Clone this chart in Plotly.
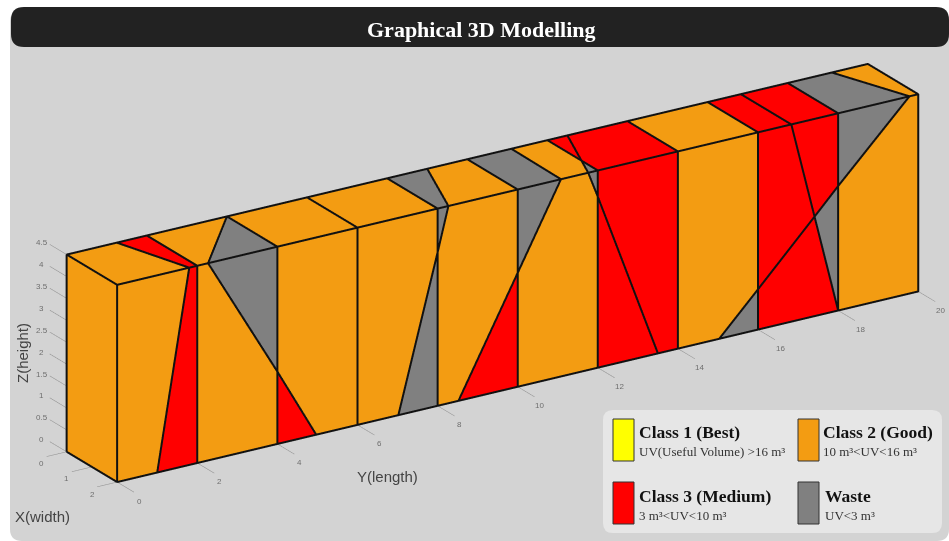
import math
import plotly.graph_objects as go

W, H = 949, 541

# ---------- data: polygons on the three visible faces, in metres ----------
ORANGE, RED, GREY, YELLOW = "#f39c12", "#ff0000", "#808080", "#ffff00"

# front face (x = 2): polygon corners as (y, z)
front_orange = [
    [(0, 0), (1, 0), (1.8, 4.5), (0, 4.5)],
    [(2, 0), (4, 0), (4, 1.65), (2.27, 4.5), (2, 4.5)],
    [(4.97, 0), (6, 0), (6, 4.5), (4, 4.5), (4, 1.65)],
    [(6, 0), (7.02, 0), (8, 3.5), (8, 4.5), (6, 4.5)],
    [(8, 0), (8.52, 0), (10, 2.6), (10, 4.5), (8.27, 4.5), (8, 3.5)],
    [(10, 0), (12, 0), (12, 3.9), (11.76, 4.5), (11.08, 4.5), (10, 2.6)],
    [(14, 0), (15.03, 0), (16, 0.92), (16, 4.5), (14, 4.5)],
    [(18, 0), (20, 0), (20, 4.5), (19.78, 4.5), (18, 2.84)],
]
front_red = [
    [(1, 0), (2, 0), (2, 4.5), (1.8, 4.5)],
    [(4, 0), (4.97, 0), (4, 1.65)],
    [(8.52, 0), (10, 0), (10, 2.6)],
    [(12, 0), (13.5, 0), (12, 3.9)],
    [(13.5, 0), (14, 0), (14, 4.5), (12, 4.5), (12, 3.9)],
    [(16, 0.92), (17.41, 2.27), (16.83, 4.5), (16, 4.5)],
    [(16, 0), (18, 0), (17.41, 2.27), (16, 0.92)],
    [(17.41, 2.27), (18, 2.84), (18, 4.5), (16.83, 4.5)],
]
front_grey = [
    [(2.27, 4.5), (4, 4.5), (4, 1.65)],
    [(7.02, 0), (8, 0), (8, 3.5)],
    [(8, 3.5), (8.27, 4.5), (8, 4.5)],
    [(10, 2.6), (11.08, 4.5), (10, 4.5)],
    [(11.76, 4.5), (12, 4.5), (12, 3.9)],
    [(15.03, 0), (16, 0), (16, 0.92)],
    [(17.41, 2.27), (18, 0), (18, 2.84)],
    [(18, 2.84), (19.78, 4.5), (18, 4.5)],
]
# top face (z = 4.5): polygon corners as (x, y)
top_orange = [
    [(2, 0), (2, 1.8), (0, 1.25), (0, 0)],
    [(2, 2), (2, 2.27), (0, 4), (0, 2)],
    [(2, 4), (2, 6), (0, 6), (0, 4)],
    [(2, 6), (2, 8), (0, 8), (0, 6)],
    [(2, 8.27), (2, 10), (0, 10), (0, 9)],
    [(2, 11.08), (2, 11.76), (1.35, 12), (0, 12), (0, 11.1)],
    [(2, 14), (2, 16), (0, 16), (0, 14)],
    [(2, 19.78), (2, 20), (0, 20), (0, 19.1)],
]
top_red = [
    [(2, 1.8), (2, 2), (0, 2), (0, 1.25)],
    [(1.35, 12), (0, 12.5), (0, 12)],
    [(2, 12), (2, 14), (0, 14), (0, 12.5), (1.35, 12)],
    [(2, 16), (2, 16.83), (0, 16.83), (0, 16)],
    [(2, 16.83), (2, 18), (0, 18), (0, 16.83)],
]
top_grey = [
    [(2, 2.27), (2, 4), (0, 4)],
    [(2, 8), (2, 8.27), (0, 9), (0, 8)],
    [(2, 10), (2, 11.08), (0, 11.1), (0, 10)],
    [(2, 11.76), (2, 12), (1.35, 12)],
    [(2, 18), (2, 19.78), (0, 19.1), (0, 18)],
]
# end face (y = 0): polygon corners as (x, z)
end_orange = [[(0, 0), (2, 0), (2, 4.5), (0, 4.5)]]

x_ticks = [0, 1, 2]
y_ticks = [0, 2, 4, 6, 8, 10, 12, 14, 16, 18, 20]
z_ticks = [0, 0.5, 1, 1.5, 2, 2.5, 3, 3.5, 4, 4.5]

legend_names = ["Class 1 (Best)", "Class 2 (Good)", "Class 3 (Medium)", "Waste"]
legend_notes = ["UV(Useful Volume) >16 m³", "10 m³<UV<16 m³", "3 m³<UV<10 m³", "UV<3 m³"]
legend_colors = [YELLOW, ORANGE, RED, GREY]

# ---------- camera ----------
az, el = math.radians(32.2), math.radians(22.2)
direction = (math.cos(az) * math.cos(el), -math.sin(az) * math.cos(el), math.sin(el))
right = (math.sin(az), math.cos(az), 0)
up = (-math.sin(el) * math.cos(az), math.sin(el) * math.sin(az), math.cos(el))
DIST = 4
CX, CY = 18 / 270.7, 2.5 / 270.7
center = tuple(-CX * r + CY * u for r, u in zip(right, up))
eye = tuple(c + DIST * d for c, d in zip(center, direction))

# outlines are lifted towards the camera so the faces do not cut through them;
# moving along the line of sight leaves their place in the picture unchanged
LIFT = 0.25
lift = tuple(LIFT * d for d in direction)


# ---------- lift the faces into 3-D ----------
def on_front(p):
    return [(2, y, z) for y, z in p]


def on_top(p):
    return [(x, y, 4.5) for x, y in p]


def on_end(p):
    return [(x, 0, z) for x, z in p]


polys = {
    ORANGE: [on_front(p) for p in front_orange] + [on_top(p) for p in top_orange] + [on_end(p) for p in end_orange],
    RED: [on_front(p) for p in front_red] + [on_top(p) for p in top_red],
    GREY: [on_front(p) for p in front_grey] + [on_top(p) for p in top_grey],
}

fig = go.Figure()
lx, ly, lz = [], [], []
for color, plist in polys.items():
    xs, ys, zs, ii, jj, kk = [], [], [], [], [], []
    for poly in plist:
        base = len(xs)
        for px, py, pz in poly:
            xs.append(px); ys.append(py); zs.append(pz)
        for t in range(1, len(poly) - 1):
            ii.append(base); jj.append(base + t); kk.append(base + t + 1)
        for px, py, pz in poly + poly[:1]:
            lx.append(px + lift[0]); ly.append(py + lift[1]); lz.append(pz + lift[2])
        lx.append(None); ly.append(None); lz.append(None)
    fig.add_trace(go.Mesh3d(x=xs, y=ys, z=zs, i=ii, j=jj, k=kk, color=color, opacity=1,
                            flatshading=True, hoverinfo="skip", showscale=False,
                            lighting=dict(ambient=1, diffuse=0, specular=0, roughness=1, fresnel=0,
                                          facenormalsepsilon=0, vertexnormalsepsilon=0)))

fig.add_trace(go.Scatter3d(x=lx, y=ly, z=lz, mode="lines", line=dict(color="#111111", width=4),
                           hoverinfo="skip", showlegend=False))

# tick marks
tx, ty, tz = [], [], []
for v in z_ticks:
    tx += [0, -0.67, None]; ty += [0, 0, None]; tz += [v, v, None]
for v in y_ticks:
    tx += [2, 2.67, None]; ty += [v, v, None]; tz += [0, 0, None]
for v in x_ticks:
    tx += [v, v, None]; ty += [0, -0.5, None]; tz += [0, 0, None]
fig.add_trace(go.Scatter3d(x=tx, y=ty, z=tz, mode="lines", line=dict(color="#8c8c8c", width=1),
                           hoverinfo="skip", showlegend=False))

tickfont = dict(family="Liberation Sans", size=8, color="#6e6e6e")
anns3d = []
for v in z_ticks:
    anns3d.append(dict(x=0, y=0, z=v, text=f"{v:g}", showarrow=False, xshift=-25, yshift=12, font=tickfont))
for v in y_ticks:
    anns3d.append(dict(x=2, y=v, z=0, text=f"{v:g}", showarrow=False, xshift=22, yshift=-19, font=tickfont))
for v in x_ticks:
    anns3d.append(dict(x=v, y=0, z=0, text=f"{v:g}", showarrow=False, xshift=-25, yshift=-12, font=tickfont))

x_range, y_range, z_range = [-1, 3], [-1, 21], [-0.5, 5]
SCALE = 0.175
hidden = dict(visible=False, showgrid=False, zeroline=False, showbackground=False, showticklabels=False)
fig.update_layout(
    width=W, height=H, margin=dict(l=0, r=0, t=0, b=0), paper_bgcolor="white", showlegend=False,
    scene=dict(
        domain=dict(x=[0, 1], y=[0, 1]),
        xaxis=dict(hidden, range=x_range), yaxis=dict(hidden, range=y_range), zaxis=dict(hidden, range=z_range),
        aspectmode="manual",
        aspectratio=dict(x=SCALE * (x_range[1] - x_range[0]), y=SCALE * (y_range[1] - y_range[0]),
                         z=SCALE * (z_range[1] - z_range[0])),
        camera=dict(projection=dict(type="orthographic"),
                    eye=dict(x=eye[0], y=eye[1], z=eye[2]),
                    center=dict(x=center[0], y=center[1], z=center[2]),
                    up=dict(x=0, y=0, z=1)),
        annotations=anns3d,
    ),
)


# ---------- page furniture in pixel-like paper coordinates ----------
def fx(v):
    return v / W


def fy(v):
    return 1 - v / H


def round_rect(x0, y0, x1, y1, r, fill, line=None):
    p = (f"M{fx(x0 + r * 1)},{fy(y0)} L{fx(x1 - r)},{fy(y0)} Q{fx(x1)},{fy(y0)} {fx(x1)},{fy(y0 + r)} "
         f"L{fx(x1)},{fy(y1 - r)} Q{fx(x1)},{fy(y1)} {fx(x1 - r)},{fy(y1)} "
         f"L{fx(x0 + r)},{fy(y1)} Q{fx(x0)},{fy(y1)} {fx(x0)},{fy(y1 - r)} "
         f"L{fx(x0)},{fy(y0 + r)} Q{fx(x0)},{fy(y0)} {fx(x0 + r)},{fy(y0)} Z")
    return dict(type="path", xref="paper", yref="paper", path=p, fillcolor=fill,
                line=dict(color=line or fill, width=1 if line else 0), layer="below")


shapes = [
    round_rect(10, 10, 949, 541, 12, "#d3d3d3"),
    round_rect(11, 7, 949, 47, 13, "#222222"),
    round_rect(603, 410, 942, 533, 10, "#e6e6e6"),
]


def label(x, y, text, font, xanchor="center", **kw):
    return dict(x=fx(x), y=fy(y), xref="paper", yref="paper", text=text, showarrow=False,
                xanchor=xanchor, yanchor="middle", font=font, **kw)


axis_font = dict(family="Liberation Sans", size=15, color="#444444")
anns = [
    label(481, 29, "<b>Graphical 3D Modelling</b>", dict(family="Liberation Serif", size=22, color="white")),
    label(387, 476, "Y(length)", axis_font),
    label(42, 516, "X(width)", axis_font),
    label(22, 353, "Z(height)", axis_font, textangle=-90),
]
cols = [(613, 637), (798, 821), (613, 637), (798, 823)]
rows = [(419, 432, 451), (419, 432, 451), (482, 496, 515), (482, 496, 515)]
for name, note, color, (sx, tx0), (sy, y1, y2) in zip(legend_names, legend_notes, legend_colors, cols, rows):
    shapes.append(dict(type="rect", xref="paper", yref="paper", x0=fx(sx), x1=fx(sx + 21), y0=fy(sy), y1=fy(sy + 42),
                       fillcolor=color, line=dict(color="#333333", width=1), layer="below"))
    anns.append(label(tx0, y1, f"<b>{name}</b>", dict(family="Liberation Serif", size=17.5, color="#111111"), xanchor="left"))
    anns.append(label(tx0, y2, note, dict(family="Liberation Serif", size=13, color="#333333"), xanchor="left"))
fig.update_layout(shapes=shapes, annotations=anns)

fig.write_html("out.html", post_script="document.body.style.margin='0';", config=dict(displayModeBar=False))
